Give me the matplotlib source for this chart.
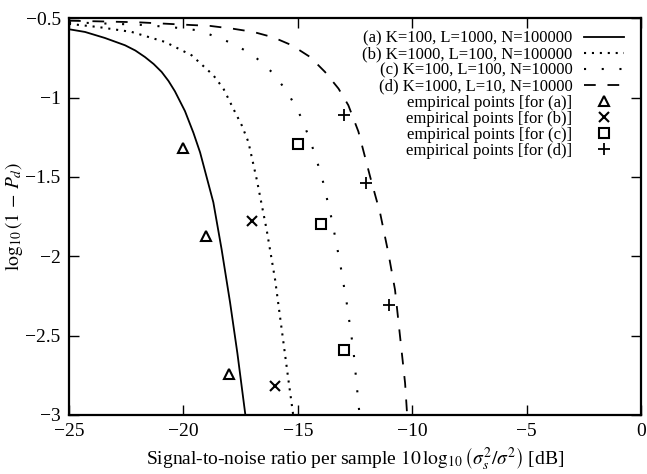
import numpy as np
import matplotlib
matplotlib.use('Agg')
import matplotlib.pyplot as plt
from matplotlib.ticker import FuncFormatter

plt.rcParams['font.family'] = ['Liberation Serif', 'DejaVu Serif']
plt.rcParams['mathtext.fontset'] = 'stix'

# curves (snr in dB, log10(1-Pd))
snr_a = [-25, -24.3, -23.43, -22.55, -22.1, -21.68, -21.3, -20.95, -20.65, -20.37, -19.93,
         -19.56, -19.27, -18.69, -18.33, -17.96, -17.64, -17.29]
pd_a = [-0.569, -0.586, -0.624, -0.670, -0.703, -0.744, -0.788, -0.838, -0.895, -0.960, -1.085,
        -1.222, -1.345, -1.660, -1.955, -2.290, -2.61, -3.0]

snr_b = [-25, -23.72, -22.26, -20.80, -19.64, -18.69, -18.25, -17.82, -17.45, -17.16,
         -16.79, -16.36, -15.99, -15.70, -15.41, -15.2]
pd_b = [-0.535, -0.555, -0.586, -0.649, -0.733, -0.859, -0.943, -1.069, -1.174, -1.279,
        -1.518, -1.833, -2.148, -2.463, -2.778, -3.0]

snr_c = [-25, -22, -20.5, -19.35, -18.83, -17.82, -16.94, -16.14, -15.45, -14.90,
         -14.46, -13.95, -13.51, -13.15, -12.86, -12.57, -12.35, -12.3]
pd_c = [-0.525, -0.54, -0.556, -0.576, -0.603, -0.660, -0.733, -0.838, -0.964, -1.111,
        -1.266, -1.497, -1.770, -2.043, -2.295, -2.589, -2.924, -3.0]

snr_d = [-25, -22, -19.71, -18.83, -17.82, -16.94, -16.07, -15.26, -14.46, -13.81,
         -13.22, -12.79, -12.35, -11.84, -11.40, -11.04, -10.75, -10.53, -10.31, -10.22]
pd_d = [-0.515, -0.525, -0.542, -0.548, -0.566, -0.586, -0.620, -0.670, -0.744, -0.838,
        -0.943, -1.048, -1.214, -1.497, -1.728, -1.980, -2.211, -2.505, -2.799, -3.0]

# empirical points
emp_a_x = [-20, -19, -18]
emp_a_y = [-1.32, -1.875, -2.74]
emp_b_x = [-17, -16]
emp_b_y = [-1.776, -2.815]
emp_c_x = [-15, -14, -13]
emp_c_y = [-1.29, -1.797, -2.593]
emp_d_x = [-13, -12, -11]
emp_d_y = [-1.109, -1.539, -2.305]

labels = ['(a) K=100, L=1000, N=100000',
          '(b) K=1000, L=100, N=100000',
          '(c) K=100, L=100, N=10000',
          '(d) K=1000, L=10, N=10000',
          'empirical points [for (a)]',
          'empirical points [for (b)]',
          'empirical points [for (c)]',
          'empirical points [for (d)]']

fig = plt.figure(figsize=(6.47, 4.74), dpi=100)
ax = fig.add_axes([0.1066, 0.1245, 0.8841, 0.8369])

lw = 1.3
ax.plot(snr_a, pd_a, color='k', lw=lw, label=labels[0])
ax.plot(snr_b, pd_b, color='k', lw=1.5, ls=(0, (1.0, 2.8)), label=labels[1])
ax.plot(snr_c, pd_c, color='k', lw=1.5, ls=(0, (1.0, 7.5)), label=labels[2])
ax.plot(snr_d, pd_d, color='k', lw=lw, ls=(0, (6.5, 6.5)), label=labels[3])

ax.plot(emp_a_x, emp_a_y, ls='none', marker='^', ms=7.5, mfc='none', mec='k', mew=1.5, label=labels[4])
ax.plot(emp_b_x, emp_b_y, ls='none', marker='x', ms=6.5, mec='k', mew=1.5, label=labels[5])
ax.plot(emp_c_x, emp_c_y, ls='none', marker='s', ms=6.5, mfc='none', mec='k', mew=1.5, label=labels[6])
ax.plot(emp_d_x, emp_d_y, ls='none', marker='+', ms=8, mec='k', mew=1.3, label=labels[7])

ax.set_xlim(-25, 0)
ax.set_ylim(-3, -0.5)
ax.set_xticks([-25, -20, -15, -10, -5, 0])
ax.set_yticks([-3, -2.5, -2, -1.5, -1, -0.5])
fmt = FuncFormatter(lambda v, p: ('%g' % v).replace('-', '\u2212'))
ax.xaxis.set_major_formatter(fmt)
ax.yaxis.set_major_formatter(fmt)
ax.tick_params(direction='in', length=7, width=1.0, top=True, right=True,
               labelsize=14, pad=6)
for s in ax.spines.values():
    s.set_linewidth(1.6)

ax.set_xlabel(r'Signal-to-noise ratio per sample $10\,\log_{10}\left(\sigma_s^2/\sigma^2\right)$ [dB]',
              fontsize=14, labelpad=4)
ax.set_ylabel(r'$\log_{10}(1\,-\,P_d)$', fontsize=14)
ax.yaxis.set_label_coords(-0.076, 0.5)

leg = ax.legend(loc='upper right', bbox_to_anchor=(0.985, 0.99), frameon=False,
                markerfirst=False, fontsize=12, labelspacing=0.0, handlelength=2.4,
                handletextpad=0.7, borderpad=0.0, numpoints=1)
for t in leg.get_texts():
    t.set_ha('right')

fig.savefig('out.png', dpi=100)
